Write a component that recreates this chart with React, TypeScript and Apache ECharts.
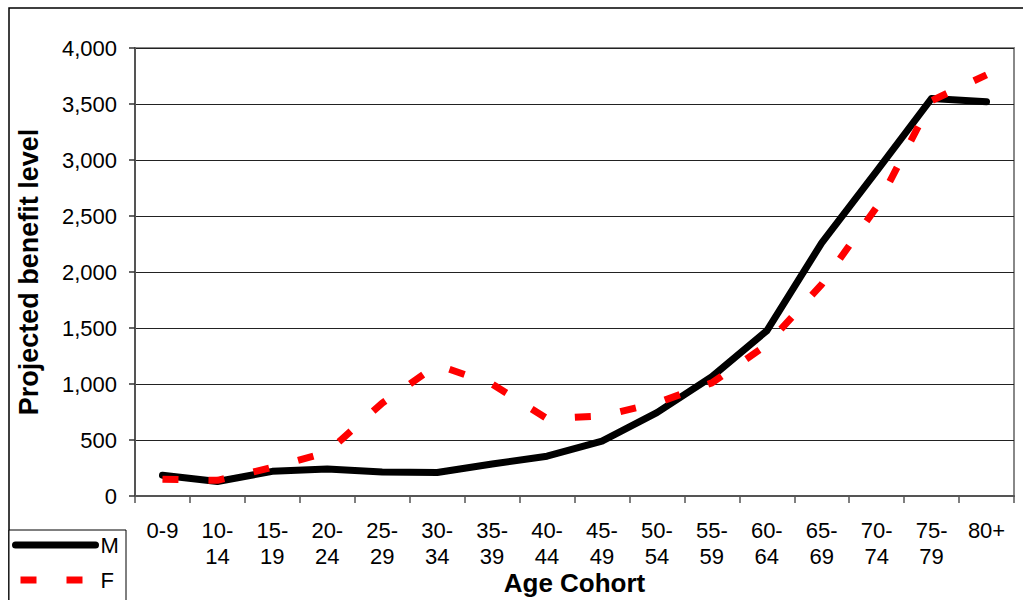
import React, { useEffect, useRef } from "react";
import * as echarts from "echarts";

const categories = ["0-9", "10-14", "15-19", "20-24", "25-29", "30-34", "35-39", "40-44", "45-49", "50-54", "55-59", "60-64", "65-69", "70-74", "75-79", "80+"];
const maleValues = [185, 130, 220, 240, 215, 210, 285, 355, 490, 745, 1065, 1475, 2260, 2900, 3550, 3520];
const femaleValues = [150, 140, 255, 390, 830, 1170, 1000, 690, 715, 830, 1010, 1350, 1890, 2580, 3530, 3760];
const yTicks = { min: 0, max: 4000, interval: 500 };

const FONT = "'Liberation Sans', Arial, sans-serif";

export default function App() {
  const ref = useRef<HTMLDivElement>(null);
  useEffect(() => {
    if (!ref.current) return;
    const chart = echarts.init(ref.current, null, { renderer: "svg" });
    chart.setOption({
      animation: false,
      backgroundColor: "#fff",
      textStyle: { fontFamily: FONT, color: "#000" },
      grid: {
        left: 135,
        right: 9,
        top: 48,
        bottom: 104,
        containLabel: false,
        outerBoundsMode: "none",
        show: true,
        borderColor: "#888",
        borderWidth: 2,
        backgroundColor: "#fff",
      },
      graphic: [
        {
          type: "rect",
          z: -10,
          shape: { x: 9, y: 8, width: 1100, height: 700 },
          style: { fill: "none", stroke: "#000", lineWidth: 1.5 },
        },
        {
          type: "rect",
          z: 5,
          shape: { x: 9, y: 530, width: 117, height: 100 },
          style: { fill: "#fff", stroke: "#000", lineWidth: 1 },
        },
      ],
      legend: {
        z: 10,
        orient: "vertical",
        left: 12,
        top: 534,
        itemWidth: 80,
        itemHeight: 14,
        itemGap: 13,
        padding: 0,
        itemStyle: { opacity: 0 },
        textStyle: { fontFamily: FONT, fontSize: 22, color: "#000", lineHeight: 22 },
        data: [
          { name: "M", itemStyle: { opacity: 0 }, lineStyle: { width: 7, cap: "round", color: "#000" } },
          { name: "F", itemStyle: { opacity: 0 }, lineStyle: { width: 7, cap: "butt", color: "#ff0000", type: [16, 30], dashOffset: -5 } },
        ],
      },
      xAxis: {
        type: "category",
        data: categories,
        boundaryGap: true,
        name: "Age Cohort",
        nameLocation: "middle",
        nameGap: 87,
        nameMoveOverlap: false,
        nameTextStyle: { fontFamily: FONT, fontSize: 26, fontWeight: "bold", color: "#000", verticalAlign: "middle" },
        axisLine: { show: true, lineStyle: { color: "#555", width: 2 } },
        axisTick: { show: true, alignWithLabel: false, length: 7, lineStyle: { color: "#555", width: 1.5 } },
        axisLabel: {
          interval: 0,
          margin: 21,
          fontFamily: FONT,
          fontSize: 22,
          lineHeight: 26,
          color: "#000",
          verticalAlign: "top",
          formatter: (v: string) => v.replace(/^(\d{2,})-/, "$1-\n"),
        },
        splitLine: { show: false },
      },
      yAxis: {
        type: "value",
        min: yTicks.min,
        max: yTicks.max,
        interval: yTicks.interval,
        name: "Projected benefit level",
        nameLocation: "middle",
        nameGap: 93,
        nameMoveOverlap: false,
        nameTextStyle: { fontFamily: FONT, fontSize: 27, fontWeight: "bold", color: "#000" },
        axisLine: { show: true, lineStyle: { color: "#555", width: 2 } },
        axisTick: { show: true, length: 6, lineStyle: { color: "#333", width: 1.5 } },
        axisLabel: {
          margin: 18,
          fontFamily: FONT,
          fontSize: 22,
          color: "#000",
          formatter: (v: number) => v.toLocaleString("en-US"),
        },
        splitLine: { show: true, lineStyle: { color: "#222", width: 1 } },
      },
      series: [
        {
          name: "M",
          type: "line",
          data: maleValues,
          symbol: "none",
          lineStyle: { color: "#000", width: 7, cap: "round", join: "round" },
          itemStyle: { color: "#000" },
          z: 3,
        },
        {
          name: "F",
          type: "line",
          data: femaleValues,
          symbol: "none",
          lineStyle: { color: "#ff0000", width: 7, type: [16, 30], cap: "butt" },
          itemStyle: { color: "#ff0000" },
          z: 4,
        },
      ],
    });
    return () => chart.dispose();
  }, []);
  return <div ref={ref} style={{ width: 1023, height: 600, position: "absolute", left: 0, top: 0 }} />;
}
